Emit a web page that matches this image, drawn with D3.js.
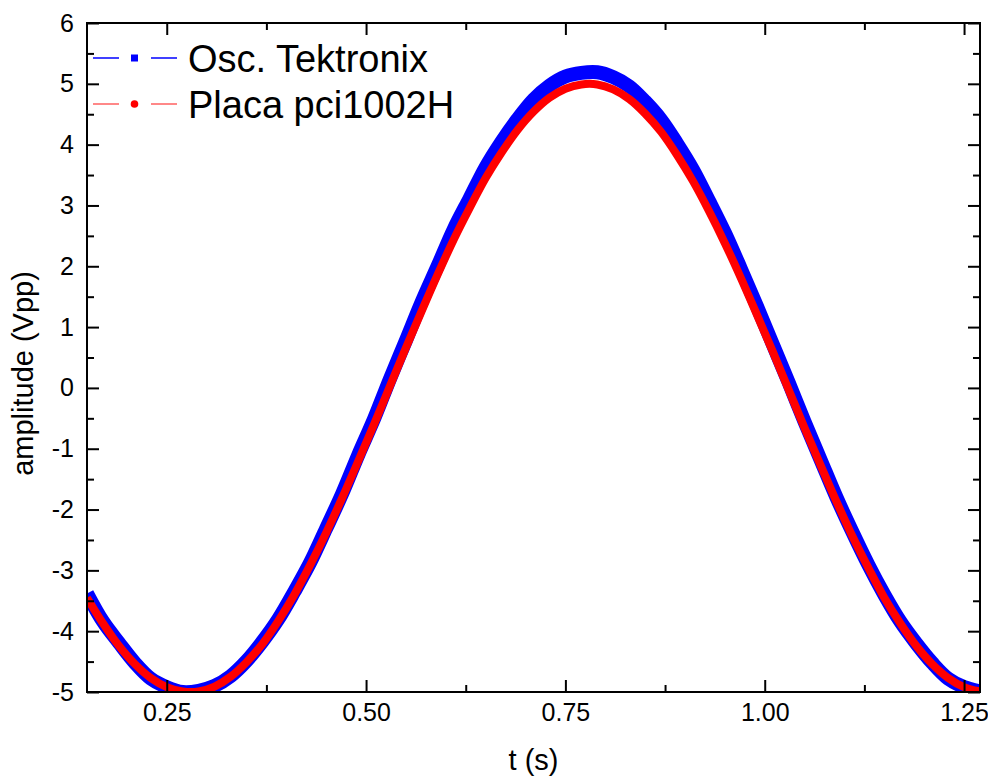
<!DOCTYPE html>
<html>
<head>
<meta charset="utf-8">
<script src="https://cdn.jsdelivr.net/npm/d3@7"></script>
<style>
  body { margin: 0; background: #fff; }
  text { font-family: Arial, "Liberation Sans", sans-serif; }
</style>
</head>
<body>
<div id="chart"></div>
<script>
// time samples (s)
var tValues = [0.15, 0.17, 0.19, 0.21, 0.23, 0.25, 0.27, 0.29, 0.31, 0.33,
  0.35, 0.37, 0.39, 0.41, 0.43, 0.45, 0.47, 0.49, 0.51, 0.53,
  0.55, 0.57, 0.59, 0.61, 0.63, 0.65, 0.67, 0.69, 0.71, 0.73,
  0.75, 0.77, 0.79, 0.81, 0.83, 0.85, 0.87, 0.89, 0.91, 0.93,
  0.95, 0.97, 0.99, 1.01, 1.03, 1.05, 1.07, 1.09, 1.11, 1.13,
  1.15, 1.17, 1.19, 1.21, 1.23, 1.25, 1.27];

// Osc. Tektronix (blue)
var oscValues = [-3.38, -3.84, -4.19, -4.52, -4.78, -4.92, -5.00, -4.98, -4.90, -4.74,
  -4.49, -4.17, -3.80, -3.35, -2.87, -2.31, -1.74, -1.11, -0.51, 0.15,
  0.78, 1.42, 2.01, 2.61, 3.12, 3.63, 4.05, 4.42, 4.74, 4.97,
  5.12, 5.18, 5.19, 5.11, 4.96, 4.71, 4.41, 4.02, 3.59, 3.08,
  2.55, 1.96, 1.35, 0.72, 0.09, -0.56, -1.18, -1.80, -2.37, -2.91,
  -3.40, -3.84, -4.20, -4.52, -4.78, -4.92, -4.99];

// Placa pci1002H (red)
var placaValues = [-3.45, -3.87, -4.24, -4.54, -4.77, -4.92, -4.99, -4.99, -4.91, -4.75,
  -4.51, -4.21, -3.83, -3.40, -2.91, -2.38, -1.81, -1.21, -0.60, 0.03,
  0.66, 1.27, 1.87, 2.44, 2.96, 3.45, 3.87, 4.24, 4.54, 4.77,
  4.92, 4.99, 4.99, 4.91, 4.75, 4.51, 4.21, 3.83, 3.40, 2.91,
  2.38, 1.81, 1.21, 0.60, -0.03, -0.66, -1.27, -1.87, -2.44, -2.96,
  -3.45, -3.87, -4.24, -4.54, -4.77, -4.92, -4.99];

var xMajor = [0.25, 0.50, 0.75, 1.00, 1.25];
var xMinor = [0.375, 0.625, 0.875, 1.125];
var yMajor = [-5, -4, -3, -2, -1, 0, 1, 2, 3, 4, 5, 6];
var yMinor = [-4.5, -3.5, -2.5, -1.5, -0.5, 0.5, 1.5, 2.5, 3.5, 4.5, 5.5];

var seriesNames = ["Osc. Tektronix", "Placa pci1002H"];

// set the dimensions and margins of the graph
var margin = {top: 23, right: 8, bottom: 85, left: 87},
    width = 988 - margin.left - margin.right,
    height = 777 - margin.top - margin.bottom;

var svg = d3.select("#chart")
  .append("svg")
    .attr("width", 988)
    .attr("height", 777)
  .append("g")
    .attr("transform", "translate(" + margin.left + "," + margin.top + ")");

var x = d3.scaleLinear().domain([0.15, 1.27]).range([0, width]);
var y = d3.scaleLinear().domain([-5, 6]).range([height, 0]);

svg.append("clipPath").attr("id", "plotclip")
  .append("rect").attr("width", width).attr("height", height);

var osc = tValues.map(function(t, i) { return {t: t, v: oscValues[i]}; });
var placa = tValues.map(function(t, i) { return {t: t, v: placaValues[i]}; });

var line = d3.line()
    .x(function(d) { return x(d.t); })
    .y(function(d) { return y(d.v); })
    .curve(d3.curveCatmullRom);

var plot = svg.append("g").attr("clip-path", "url(#plotclip)");

plot.append("path").datum(osc)
    .attr("d", line)
    .attr("fill", "none")
    .attr("stroke", "#0000ff")
    .attr("stroke-width", 14);

plot.append("path").datum(placa)
    .attr("d", line)
    .attr("fill", "none")
    .attr("stroke", "#ff0000")
    .attr("stroke-width", 8);

// axes, ticks pointing inward
function styleAxis(g) {
  g.select(".domain").remove();
  g.selectAll("line").attr("stroke", "#000").attr("stroke-width", 2);
  g.selectAll("text").style("font-size", "25px").attr("fill", "#000");
}

svg.append("g")
    .attr("transform", "translate(0," + height + ")")
    .call(d3.axisBottom(x).tickValues(xMajor).tickSize(-12).tickPadding(11).tickFormat(d3.format(".2f")))
    .call(styleAxis);
svg.append("g")
    .attr("transform", "translate(0," + height + ")")
    .call(d3.axisBottom(x).tickValues(xMinor).tickSize(-7).tickFormat(""))
    .call(styleAxis);
svg.append("g")
    .call(d3.axisTop(x).tickValues(xMajor).tickSize(-12).tickFormat(""))
    .call(styleAxis);
svg.append("g")
    .call(d3.axisTop(x).tickValues(xMinor).tickSize(-7).tickFormat(""))
    .call(styleAxis);

svg.append("g")
    .call(d3.axisLeft(y).tickValues(yMajor).tickSize(-12).tickPadding(13)
      .tickFormat(function(d) { return String(d); }))
    .call(styleAxis);
svg.append("g")
    .call(d3.axisLeft(y).tickValues(yMinor).tickSize(-7).tickFormat(""))
    .call(styleAxis);
svg.append("g")
    .attr("transform", "translate(" + width + ",0)")
    .call(d3.axisRight(y).tickValues(yMajor).tickSize(-12).tickFormat(""))
    .call(styleAxis);
svg.append("g")
    .attr("transform", "translate(" + width + ",0)")
    .call(d3.axisRight(y).tickValues(yMinor).tickSize(-7).tickFormat(""))
    .call(styleAxis);

// frame
svg.append("rect")
    .attr("width", width).attr("height", height)
    .attr("fill", "none").attr("stroke", "#000").attr("stroke-width", 2);

// axis titles
svg.append("text")
    .attr("x", x(0.71)).attr("y", height + 78)
    .attr("text-anchor", "middle")
    .style("font-size", "29px")
    .text("t (s)");
svg.append("text")
    .attr("transform", "translate(" + (-54) + "," + (height / 2 + 16) + ")rotate(-90)")
    .attr("text-anchor", "middle")
    .style("font-size", "29px")
    .text("amplitude (Vpp)");

// legend
var legendColors = ["#0000ff", "#ff0000"];
var legendLine = ["#0000ff", "#ff6060"];
var leg = svg.selectAll("g.legend").data(seriesNames).enter()
  .append("g").classed("legend", true)
    .attr("transform", function(d, i) { return "translate(0," + (35 + i * 46) + ")"; });
leg.append("line").attr("x1", 6).attr("x2", 32).attr("y1", 0).attr("y2", 0)
    .attr("stroke", function(d, i) { return legendLine[i]; }).attr("stroke-width", 1.5);
leg.append("line").attr("x1", 64).attr("x2", 90).attr("y1", 0).attr("y2", 0)
    .attr("stroke", function(d, i) { return legendLine[i]; }).attr("stroke-width", 1.5);
leg.filter(function(d, i) { return i === 0; }).append("rect")
    .attr("x", 44).attr("y", -3.5).attr("width", 7).attr("height", 7)
    .attr("fill", legendColors[0]);
leg.filter(function(d, i) { return i === 1; }).append("circle")
    .attr("cx", 47.5).attr("cy", 0).attr("r", 3.8)
    .attr("fill", legendColors[1]);
leg.append("text")
    .attr("x", 101).attr("y", 0).attr("dy", "0.36em")
    .style("font-size", "38px")
    .text(function(d) { return d; });
</script>
</body>
</html>
